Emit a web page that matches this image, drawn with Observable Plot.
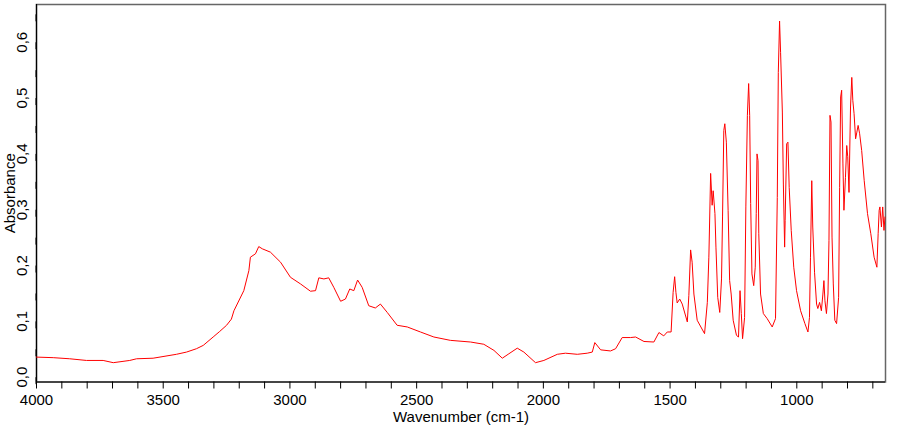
<!DOCTYPE html>
<html><head><meta charset="utf-8">
<script src="https://cdn.jsdelivr.net/npm/d3@7"></script>
<script src="https://cdn.jsdelivr.net/npm/@observablehq/plot@0.6"></script>
<style>body{margin:0;background:#fff} svg{display:block}</style>
</head><body><div id="chart"></div>
<script>
// Spectrum (wavenumber in cm-1, descending) and absorbance values
const wavenumber = [4000,3934,3869,3803,3737,3697,3632,3605,3540,3448,3408,3369,3342,3303,3277,3250,3231,3221,3182,3162,3156,3136,3123,3109,3077,3037,2998,2958,2919,2899,2886,2866,2847,2827,2800,2781,2764,2748,2733,2715,2689,2663,2643,2616,2577,2537,2485,2432,2367,2287,2235,2195,2162,2136,2103,2077,2031,1998,1945,1913,1866,1827,1807,1797,1774,1735,1715,1689,1656,1636,1603,1564,1544,1525,1511,1496,1488,1482,1477,1472,1462,1452,1432,1426,1419,1413,1406,1393,1364,1353,1347,1340,1334,1330,1323,1319,1312,1304,1297,1293,1288,1284,1278,1271,1265,1259,1251,1238,1230,1224,1219,1214,1206,1201,1195,1190,1186,1182,1177,1170,1164,1160,1157,1153,1150,1143,1132,1117,1097,1084,1077,1073,1068,1064,1057,1053,1048,1046,1040,1035,1030,1022,1012,1001,985,968,956,950,946,941,937,930,922,917,910,903,897,893,889,883,877,873,869,865,861,856,850,843,835,831,827,823,818,814,808,803,799,794,788,783,779,774,768,763,758,752,744,734,721,708,695,684,679,675,672,666,661,656,652];
const absorbance = [0.036,0.035,0.033,0.030,0.030,0.026,0.030,0.033,0.034,0.041,0.045,0.051,0.057,0.072,0.082,0.093,0.104,0.119,0.155,0.191,0.215,0.221,0.234,0.230,0.224,0.206,0.179,0.167,0.154,0.155,0.178,0.176,0.178,0.161,0.136,0.140,0.158,0.155,0.174,0.161,0.128,0.124,0.131,0.116,0.093,0.090,0.081,0.072,0.066,0.063,0.059,0.048,0.034,0.042,0.052,0.045,0.026,0.030,0.041,0.043,0.041,0.043,0.045,0.062,0.049,0.047,0.051,0.071,0.071,0.072,0.064,0.063,0.080,0.074,0.081,0.081,0.152,0.180,0.152,0.133,0.140,0.131,0.099,0.146,0.228,0.206,0.149,0.102,0.078,0.134,0.215,0.365,0.308,0.334,0.293,0.233,0.143,0.116,0.176,0.287,0.442,0.454,0.421,0.299,0.173,0.149,0.102,0.075,0.072,0.155,0.114,0.069,0.107,0.305,0.469,0.526,0.469,0.311,0.185,0.164,0.197,0.293,0.400,0.388,0.257,0.149,0.114,0.105,0.090,0.105,0.322,0.546,0.638,0.582,0.475,0.346,0.233,0.281,0.418,0.421,0.340,0.263,0.197,0.155,0.119,0.096,0.081,0.107,0.215,0.352,0.269,0.188,0.131,0.123,0.134,0.119,0.149,0.173,0.137,0.114,0.149,0.245,0.469,0.457,0.251,0.167,0.102,0.096,0.143,0.340,0.502,0.514,0.382,0.299,0.358,0.415,0.395,0.331,0.484,0.537,0.496,0.472,0.427,0.439,0.451,0.436,0.406,0.352,0.293,0.257,0.215,0.197,0.257,0.299,0.305,0.269,0.305,0.263,0.287];

// Axis settings
const xDomain = [4000, 650];
const yDomain = [-0.0086, 0.6676];
const xTicks = d3.range(700, 4001, 100);
const yTicks = d3.range(0, 14).map(i => i * 0.05);
const xLabel = "Wavenumber (cm-1)";
const yLabel = "Absorbance";

const data = wavenumber.map((w, i) => ({w, a: absorbance[i]}));
const fmtY = d => Math.abs(d * 10 - Math.round(d * 10)) < 1e-6 ? d.toFixed(1).replace(".", ",") : "";
const fmtX = d => (Math.round(d) % 500 === 0 ? String(d) : "");

const chart = Plot.plot({
  width: 910, height: 425,
  marginLeft: 36, marginRight: 25, marginTop: 4, marginBottom: 43.5,
  style: {fontFamily: "'Liberation Sans', Arial, sans-serif", fontSize: "15px", color: "#000", background: "#fff", overflow: "visible"},
  x: {domain: xDomain, label: null},
  y: {domain: yDomain, label: null},
  marks: [
    Plot.frame({stroke: "#666", strokeWidth: 1.5}),
    Plot.ruleX([xDomain[0]], {stroke: "#000", strokeWidth: 1.2}),
    Plot.ruleY([yDomain[0]], {stroke: "#000", strokeWidth: 1.2}),
    Plot.axisX({ticks: xTicks, tickFormat: fmtX, tickSize: 7, tickPadding: 5, stroke: "#000"}),
    Plot.axisY({ticks: yTicks, tickFormat: fmtY, tickSize: 7, tickPadding: 7, rotate: -90, textAnchor: "middle", stroke: "#000"}),
    Plot.line(data, {x: "w", y: "a", stroke: "#ff0000", strokeWidth: 1}),
    Plot.text([yLabel], {text: d => d, frameAnchor: "left", textAnchor: "middle", lineAnchor: "middle", dx: -26, rotate: -90, fill: "#000"}),
    Plot.text([xLabel], {text: d => d, frameAnchor: "bottom", textAnchor: "middle", lineAnchor: "middle", dy: 35, fill: "#000"})
  ]
});
document.getElementById("chart").appendChild(chart);
</script>
</body></html>
